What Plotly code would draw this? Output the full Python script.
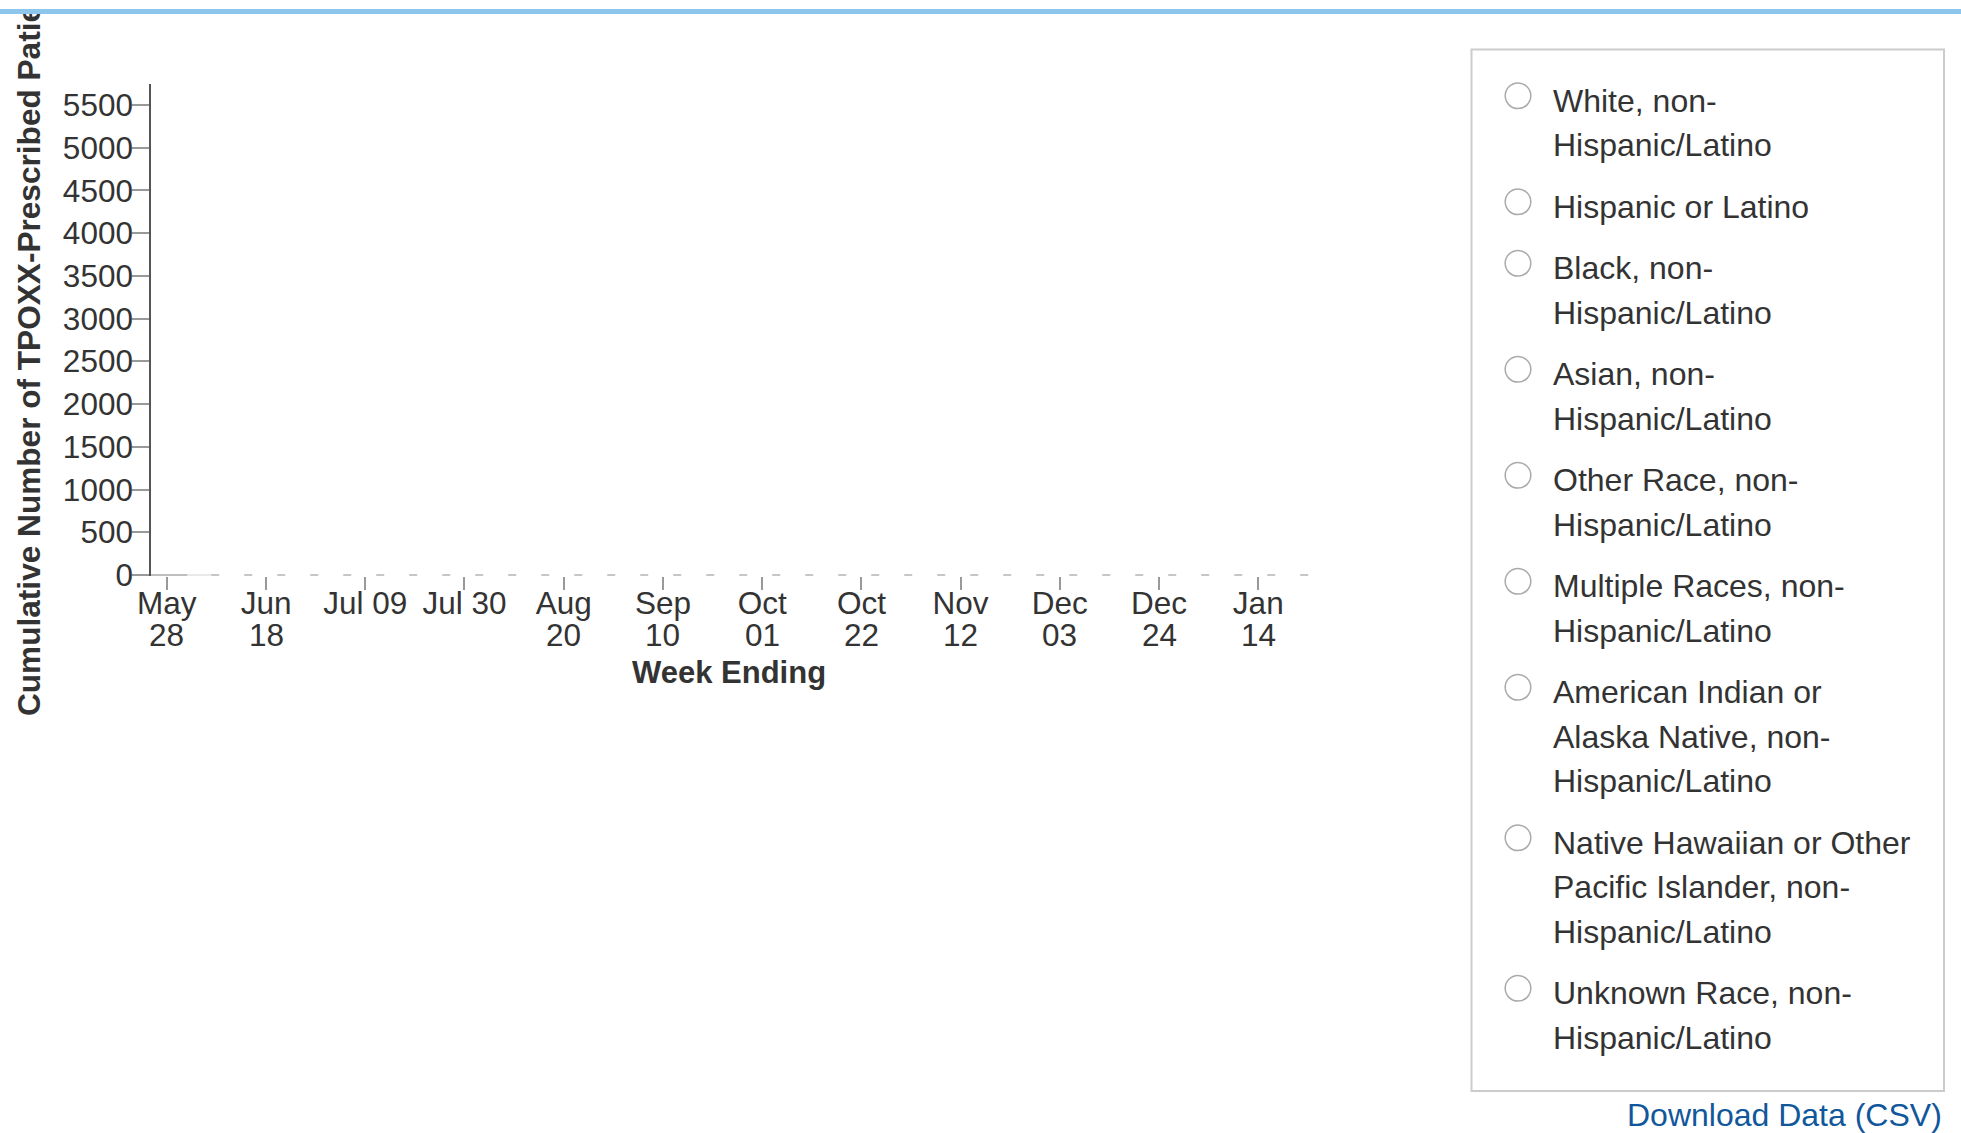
import plotly.graph_objects as go

# ---------------- data ----------------
week_ticks = ["2022-05-28", "2022-06-18", "2022-07-09", "2022-07-30", "2022-08-20",
              "2022-09-10", "2022-10-01", "2022-10-22", "2022-11-12", "2022-12-03",
              "2022-12-24", "2023-01-14"]
tick_line1 = ["May", "Jun", "Jul 09", "Jul 30", "Aug", "Sep", "Oct", "Oct", "Nov", "Dec", "Dec", "Jan"]
tick_line2 = ["28", "18", "", "", "20", "10", "01", "22", "12", "03", "24", "14"]

y_ticks = [0, 500, 1000, 1500, 2000, 2500, 3000, 3500, 4000, 4500, 5000, 5500]
y_tick_labels = [str(v) for v in y_ticks]
y_max = 5746
x_domain = ["2022-05-24 15:36", "2023-01-24 22:48"]

# visible marks (all at zero)
early_dates = ["2022-05-24 15:36", "2022-06-01 09:00"]
early_vals = [0, 0]
faint_dates = ["2022-06-01 09:00", "2022-06-06 09:30"]
faint_vals = [0, 0]
ref_dates = ["2022-06-06 09:30", "2023-01-24 22:48"]
ref_vals = [0, 0]

race_groups = [
    "White, non-Hispanic/Latino",
    "Hispanic or Latino",
    "Black, non-Hispanic/Latino",
    "Asian, non-Hispanic/Latino",
    "Other Race, non-Hispanic/Latino",
    "Multiple Races, non-Hispanic/Latino",
    "American Indian or Alaska Native, non-Hispanic/Latino",
    "Native Hawaiian or Other Pacific Islander, non-Hispanic/Latino",
    "Unknown Race, non-Hispanic/Latino",
]
race_label_lines = [
    ["White, non-", "Hispanic/Latino"],
    ["Hispanic or Latino"],
    ["Black, non-", "Hispanic/Latino"],
    ["Asian, non-", "Hispanic/Latino"],
    ["Other Race, non-", "Hispanic/Latino"],
    ["Multiple Races, non-", "Hispanic/Latino"],
    ["American Indian or", "Alaska Native, non-", "Hispanic/Latino"],
    ["Native Hawaiian or Other", "Pacific Islander, non-", "Hispanic/Latino"],
    ["Unknown Race, non-", "Hispanic/Latino"],
]

y_title = "Cumulative Number of TPOXX-Prescribed Patients"
x_title = "Week Ending"
download_text = "Download Data (CSV)"

# ---------------- layout geometry ----------------
OFF = 0                      # page body margin (removed by post_script)
W_PX, H_PX = 1961, 1133
ML, MT = 151 - OFF, 84 - OFF
MR = W_PX - (1310 - OFF)
MB = H_PX - (576 - OFF)
PW = W_PX - ML - MR
PH = H_PX - MT - MB
y_min = -y_max / (PH - 1)


def px2x(px):
    """page pixel x -> paper x"""
    return (px - OFF - ML) / PW


def py2y(py):
    """page pixel y -> paper y"""
    return (MT + PH - (py - OFF)) / PH


FONT = "Liberation Sans, Arial, Helvetica, sans-serif"
TXT = "#333333"

fig = go.Figure()
fig.add_trace(go.Scatter(x=early_dates, y=early_vals, mode="lines",
                         line=dict(color="#a8a8a8", width=1.6), hoverinfo="skip"))
fig.add_trace(go.Scatter(x=faint_dates, y=faint_vals, mode="lines",
                         line=dict(color="#e4e4e4", width=1.6), hoverinfo="skip"))
fig.add_trace(go.Scatter(x=ref_dates, y=ref_vals, mode="lines",
                         line=dict(color="#b4b4b4", width=1.6, dash="8px,25px"), hoverinfo="skip"))

annotations = []
# second line of x tick labels
for d, t in zip(week_ticks, tick_line2):
    if t:
        annotations.append(dict(x=d, xref="x", y=py2y(634.5), yref="paper", text=t,
                                showarrow=False, xanchor="center", yanchor="middle",
                                font=dict(family=FONT, size=31.5, color=TXT), borderpad=0))
# axis titles
annotations.append(dict(x=px2x(729), xref="paper", y=py2y(672), yref="paper", text="<b>%s</b>" % x_title,
                        showarrow=False, xanchor="center", yanchor="middle",
                        font=dict(family=FONT, size=31, color=TXT), borderpad=0))
annotations.append(dict(x=px2x(28.5), xref="paper", y=py2y(337.5), yref="paper", text="<b>%s</b>" % y_title,
                        showarrow=False, xanchor="center", yanchor="middle", textangle=-90,
                        font=dict(family=FONT, size=31.6, color=TXT), borderpad=0))
# page header: blue rule above the chart container (covers overflowing title)
annotations.append(dict(x=px2x(0), xref="paper", y=py2y(0), yref="paper", text=" ",
                        showarrow=False, xanchor="left", yanchor="top", width=W_PX + 40, height=9,
                        bgcolor="#ffffff", borderpad=0, borderwidth=0, font=dict(size=1)))
annotations.append(dict(x=px2x(0), xref="paper", y=py2y(9), yref="paper", text=" ",
                        showarrow=False, xanchor="left", yanchor="top", width=W_PX + 40, height=5,
                        bgcolor="#8cc6ec", borderpad=0, borderwidth=0, font=dict(size=1)))

shapes = []
# legend box
shapes.append(dict(type="rect", xref="paper", yref="paper",
                   x0=px2x(1471.5), x1=px2x(1944), y0=py2y(49.5), y1=py2y(1091),
                   line=dict(color="#cccccc", width=2), fillcolor="rgba(0,0,0,0)", layer="above"))
LINE_H = 44.5
GAP = 17
y_cur = 100.8
for name, lines in zip(race_groups, race_label_lines):
    cy = y_cur - 5
    r = 12.8
    cx = 1518
    shapes.append(dict(type="circle", xref="paper", yref="paper",
                       x0=px2x(cx - r), x1=px2x(cx + r), y0=py2y(cy + r), y1=py2y(cy - r),
                       line=dict(color="#aaaaaa", width=1.5), fillcolor="#ffffff", layer="above"))
    for ln in lines:
        annotations.append(dict(x=px2x(1552), xref="paper", y=py2y(y_cur), yref="paper", text=ln,
                                showarrow=False, xanchor="left", yanchor="middle", borderpad=0,
                                font=dict(family=FONT, size=32, color=TXT)))
        y_cur += LINE_H
    y_cur += GAP

annotations.append(dict(x=px2x(1943), xref="paper", y=py2y(1114.5), yref="paper", text=download_text,
                        showarrow=False, xanchor="right", yanchor="middle", borderpad=0,
                        font=dict(family=FONT, size=32, color="#11579b")))

fig.update_layout(
    template="none",
    width=W_PX, height=H_PX,
    margin=dict(l=ML, r=MR, t=MT, b=MB, pad=0),
    paper_bgcolor="white", plot_bgcolor="white",
    showlegend=False,
    font=dict(family=FONT, color=TXT),
    annotations=annotations,
    shapes=shapes,
    xaxis=dict(type="date", range=x_domain, tickvals=week_ticks, ticktext=tick_line1,
               showgrid=False, zeroline=False, showline=False,
               ticks="outside", ticklen=13, tickwidth=1.5, tickcolor="#999999",
               ticklabelstandoff=-14,
               tickfont=dict(family=FONT, size=31.5, color=TXT), automargin=False),
    yaxis=dict(range=[y_min, y_max], tickvals=y_ticks, ticktext=y_tick_labels,
               showgrid=False, zeroline=False, showline=True, linecolor="#555555", linewidth=1.5,
               ticks="outside", ticklen=17, tickwidth=1.5, tickcolor="#999999",
               ticklabelstandoff=-7,
               tickfont=dict(family=FONT, size=31.5, color=TXT), automargin=False),
)

fig.write_html("out.html", config={"displayModeBar": False},
               post_script="document.body.style.margin='0px';document.body.style.overflow='hidden';")
